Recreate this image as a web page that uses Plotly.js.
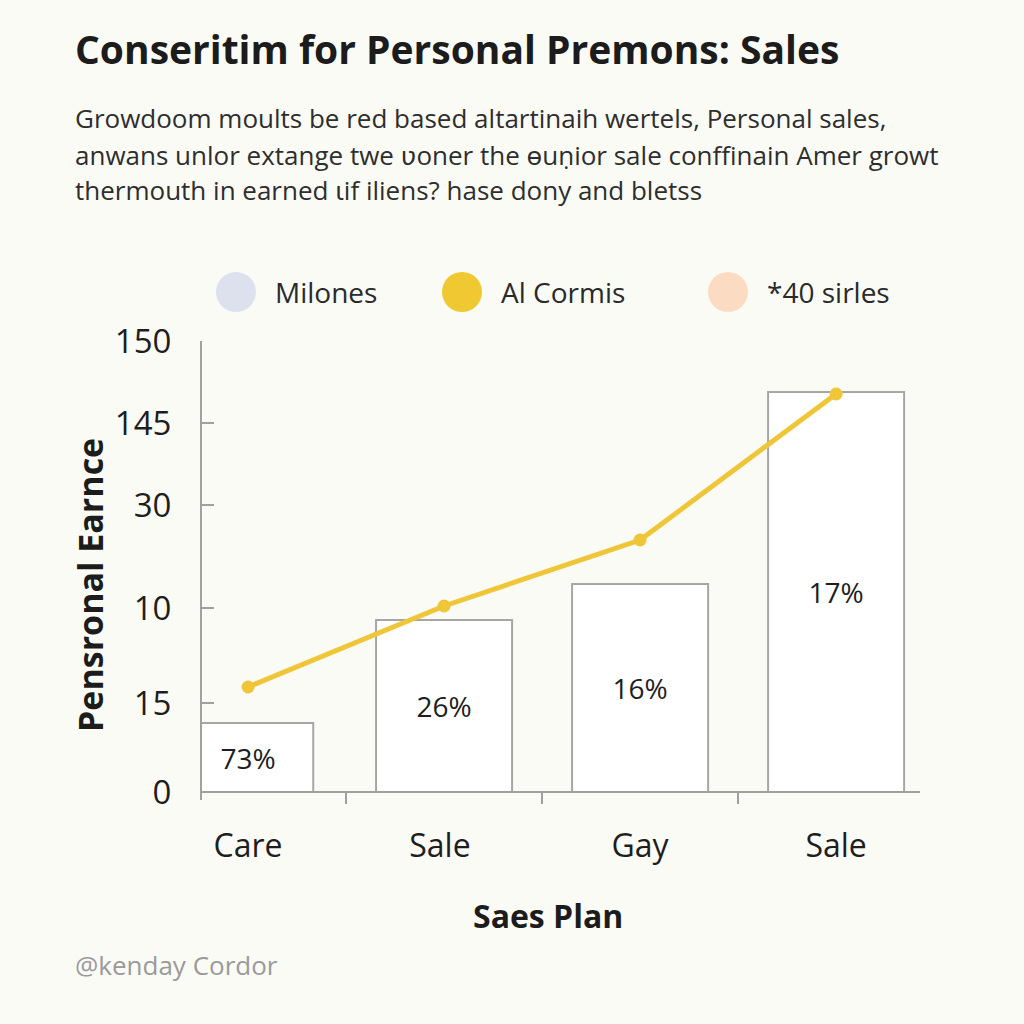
<!DOCTYPE html>
<html>
<head>
<meta charset="utf-8">
<script src="https://cdn.plot.ly/plotly-3.0.1.min.js"></script>
<style>
html,body{margin:0;padding:0;background:#fbfbf6;}
#chart{width:1024px;height:1024px;}
</style>
</head>
<body>
<div id="chart"></div>
<script>
// ---- data ----
const categories = ["Care", "Sale ", "Gay", "Sale"];
const barValues = [69, 172, 208, 400];
const barLabels = ["73%", "26%", "16%", "17%"];
const lineValues = [105, 186, 252, 398];
const yTickVals = [0, 89, 184, 287, 369, 451];
const yTickText = ["0", "15", "10", "30", "145", "150"];
const legendNames = ["Milones", "Al Cormis", "*40 sirles"];
const legendColors = ["#dde1ee", "#f0c832", "#fbdcc2"];
const titleText = "Conseritim for Personal Premons: Sales";
const subtitleLines = [
  "Growdoom moults be red based altartinaih wertels, Personal sales,",
  "anwans unlor extange twe ʋoner the ɵuṇior sale conffinain Amer growt",
  "thermouth in earned ɩif iliens? hase dony and bletss"
];
const yTitle = "Pensronal Earnce";
const xTitle = "Saes Plan";
const footer = "@kenday Cordor";

// ---- layout geometry (pixels) ----
const W = 1024, H = 1024;
const L = 202, R = 920, T = 341, B = 800;
const px = x => (x - L) / (R - L);
const py = y => (B - y) / (B - T);

const FONT = "Open Sans, Noto Sans, sans-serif";

const traces = [
  {
    type: "bar",
    x: categories,
    y: barValues,
    text: barLabels,
    textposition: "inside",
    insidetextanchor: "middle",
    textfont: {family: FONT, size: 28, color: "#1e1e1e"},
    marker: {color: "#ffffff", line: {color: "#a6a6a6", width: 2}},
    width: [0.665, 0.694, 0.694, 0.694],
    showlegend: false,
    hoverinfo: "skip"
  },
  {
    type: "scatter",
    mode: "lines+markers",
    x: categories,
    y: lineValues,
    line: {color: "#eec638", width: 5},
    marker: {color: "#eec638", size: 13},
    cliponaxis: false,
    showlegend: false,
    hoverinfo: "skip"
  }
];

const annotations = [];
const shapes = [];

// title
annotations.push({
  xref: "paper", yref: "paper", x: px(73), y: py(48),
  xanchor: "left", yanchor: "middle", showarrow: false,
  text: "<b>" + titleText + "</b>",
  font: {family: FONT, size: 39, color: "#1c1c1c"}
});
// subtitle lines
const subY = [118, 155, 190];
subtitleLines.forEach((t, i) => {
  annotations.push({
    xref: "paper", yref: "paper", x: px(73), y: py(subY[i]),
    xanchor: "left", yanchor: "middle", showarrow: false,
    text: t,
    font: {family: FONT, size: 26, color: "#2e2e2e"}
  });
});
// custom legend
const legX = [236, 462, 728];
legendNames.forEach((n, i) => {
  const cx = legX[i], cy = 292, r = 20;
  shapes.push({
    type: "circle", xref: "paper", yref: "paper",
    x0: px(cx - r), x1: px(cx + r), y0: py(cy + r), y1: py(cy - r),
    fillcolor: legendColors[i], line: {width: 0}
  });
  annotations.push({
    xref: "paper", yref: "paper", x: px(cx + 37), y: py(cy),
    xanchor: "left", yanchor: "middle", showarrow: false,
    text: n, font: {family: FONT, size: 28, color: "#2a2a2a"}
  });
});
// axis titles
annotations.push({
  xref: "paper", yref: "paper", x: px(90), y: py(585),
  xanchor: "center", yanchor: "middle", showarrow: false, textangle: -90,
  text: "<b>" + yTitle + "</b>",
  font: {family: FONT, size: 34, color: "#1c1c1c"}
});
annotations.push({
  xref: "paper", yref: "paper", x: px(548), y: py(915),
  xanchor: "center", yanchor: "middle", showarrow: false,
  text: "<b>" + xTitle + "</b>",
  font: {family: FONT, size: 32, color: "#1c1c1c"}
});
// footer
annotations.push({
  xref: "paper", yref: "paper", x: px(73), y: py(965),
  xanchor: "left", yanchor: "middle", showarrow: false,
  text: footer,
  font: {family: FONT, size: 26, color: "#9a9a9a"}
});

const layout = {
  width: W, height: H,
  margin: {l: L, r: W - R, t: T, b: H - B, pad: 0},
  paper_bgcolor: "#fbfbf6",
  plot_bgcolor: "#fbfbf6",
  showlegend: false,
  bargap: 0.3,
  xaxis: {
    type: "category",
    range: [-0.235, 3.428],
    tickson: "boundaries",
    ticks: "outside", ticklen: 11, tickwidth: 2, tickcolor: "#a0a0a0",
    showline: true, linecolor: "#a0a0a0", linewidth: 2,
    showgrid: false, zeroline: false,
    anchor: "free", position: py(792),
    tickfont: {family: FONT, size: 32, color: "#1e1e1e"},
    ticklabelstandoff: 26
  },
  yaxis: {
    range: [-8, 451],
    tickvals: yTickVals, ticktext: yTickText,
    ticks: "inside", ticklen: 12, tickwidth: 2, tickcolor: "#a0a0a0",
    showline: true, linecolor: "#a0a0a0", linewidth: 2,
    showgrid: false, zeroline: false,
    tickfont: {family: FONT, size: 33, color: "#1e1e1e"},
    ticklabelstandoff: 22
  },
  annotations: annotations,
  shapes: shapes
};

Plotly.newPlot("chart", traces, layout, {displayModeBar: false, staticPlot: true});
</script>
</body>
</html>
